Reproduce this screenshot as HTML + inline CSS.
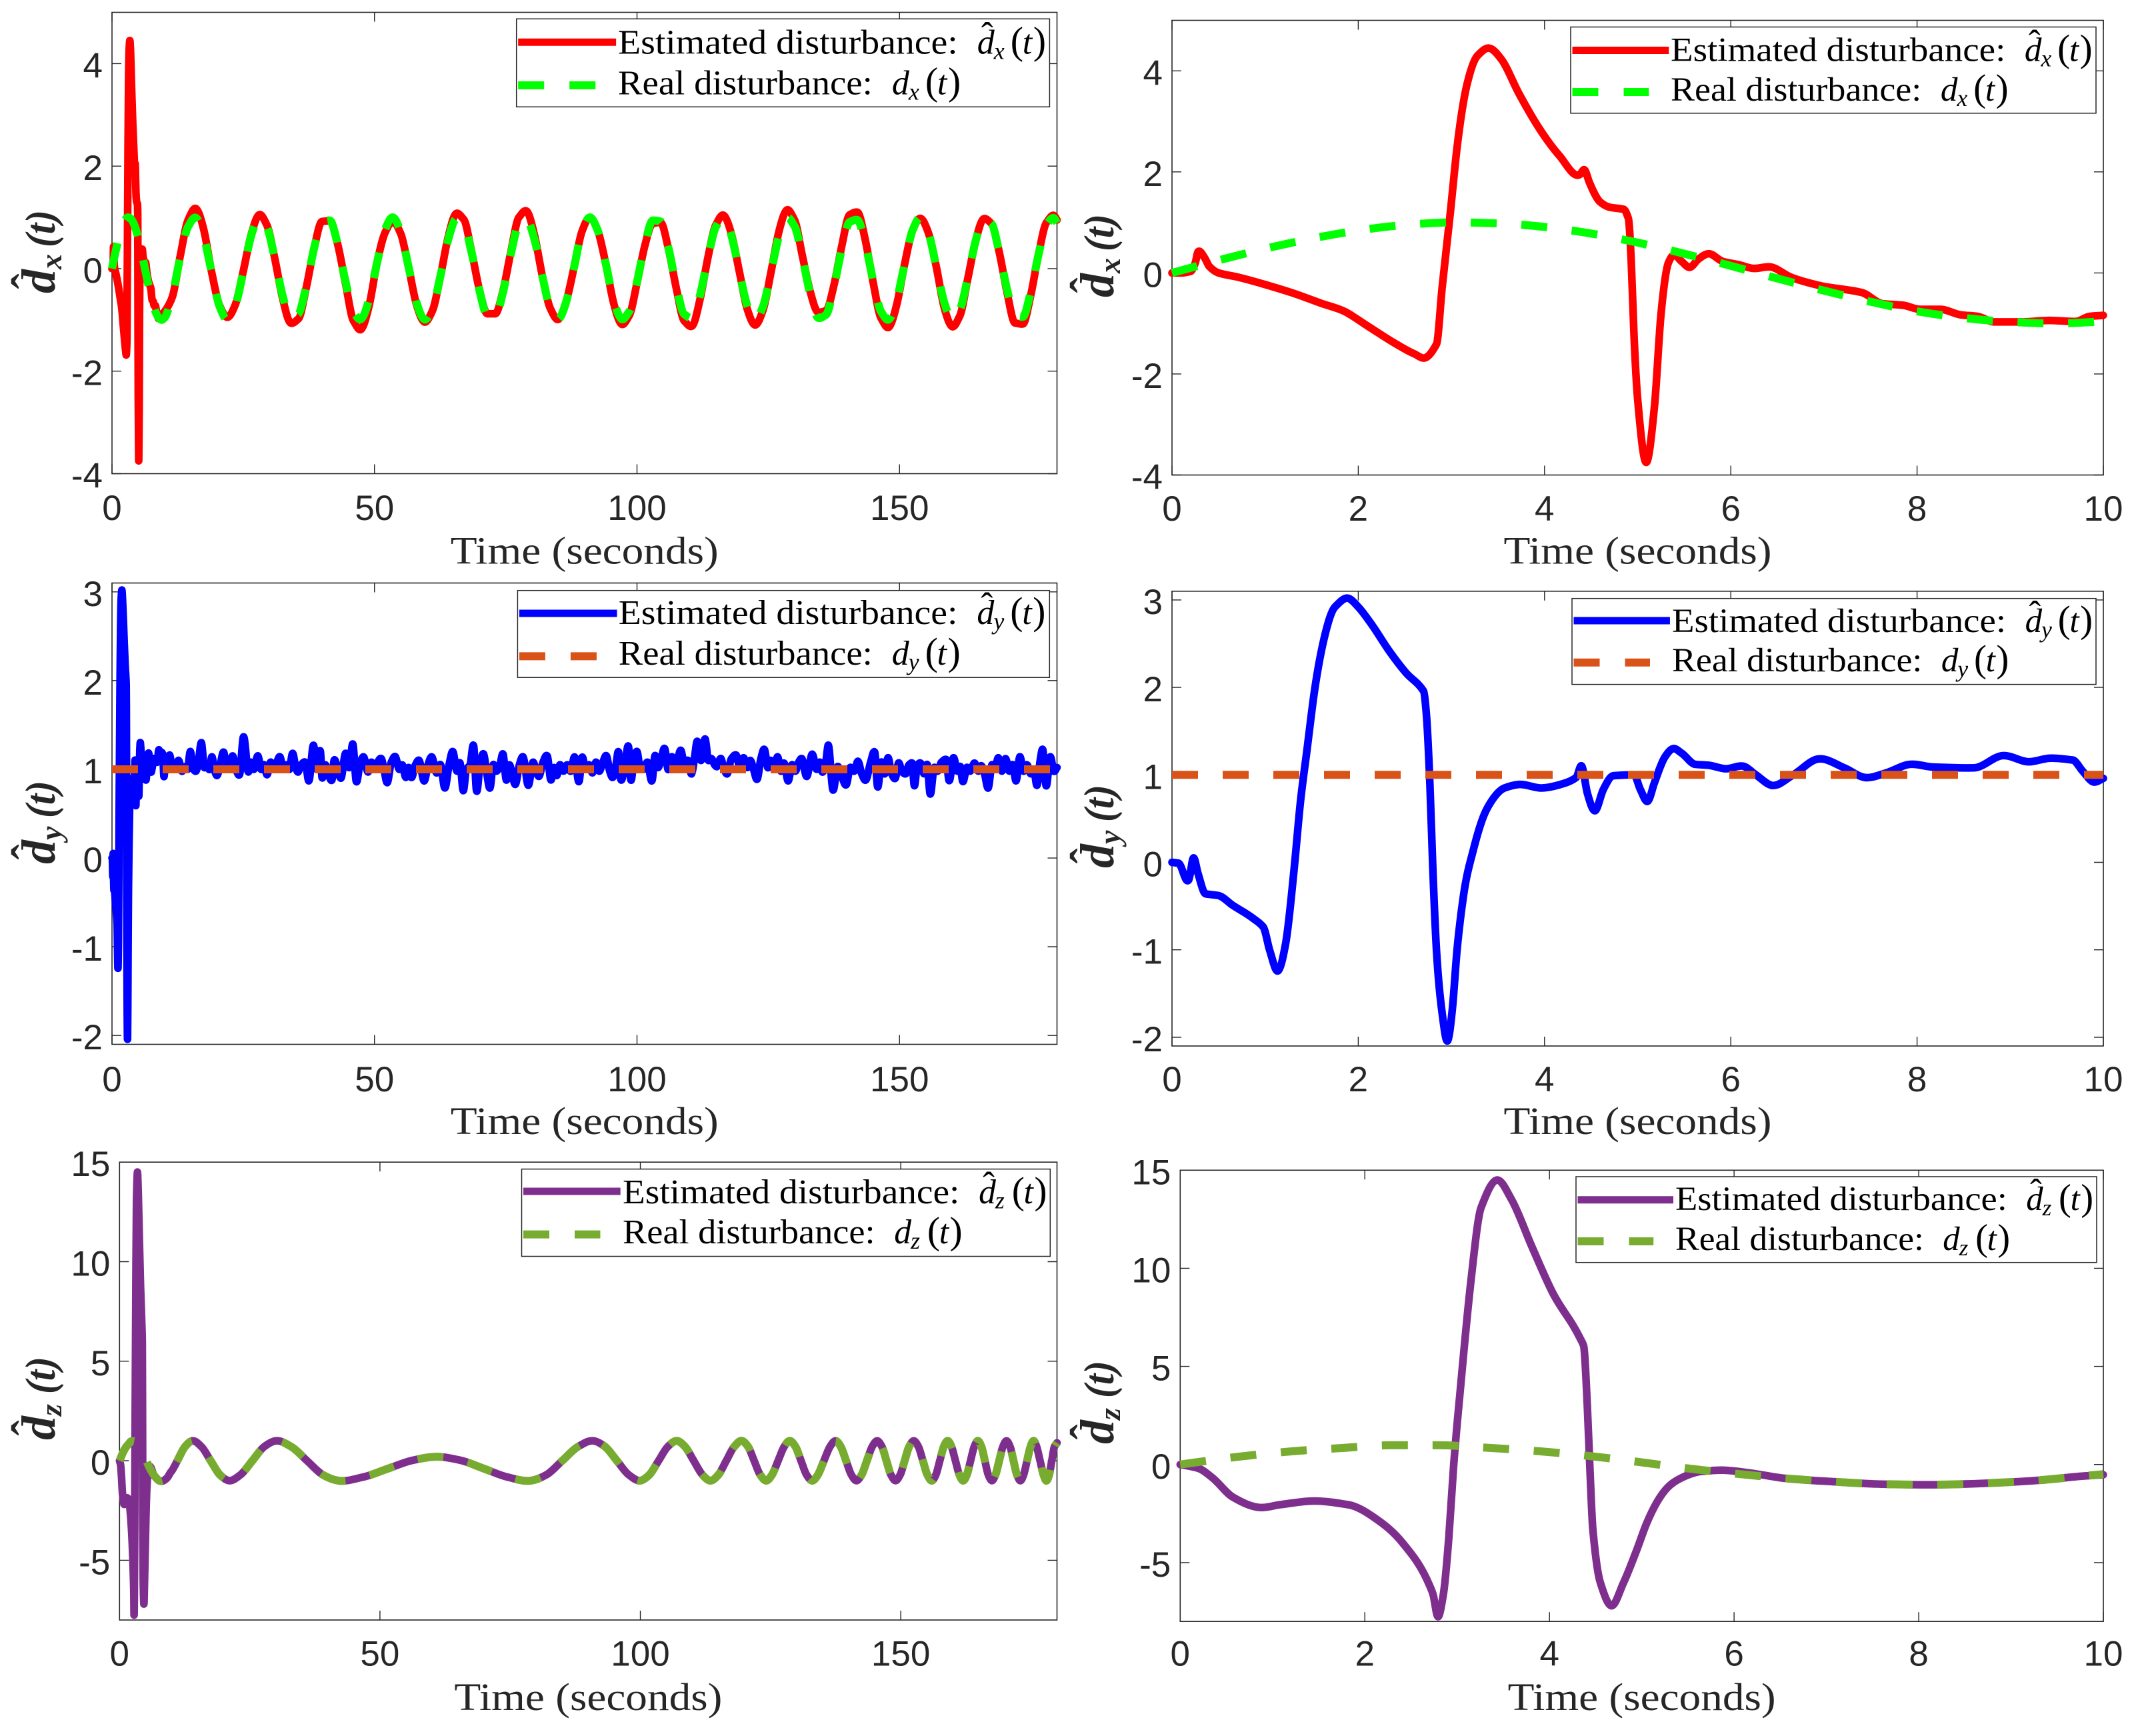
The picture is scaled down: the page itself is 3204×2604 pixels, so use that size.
<!DOCTYPE html>
<html lang="en">
<head>
<meta charset="utf-8">
<title>Estimated and real disturbances</title>
<style>
html,body{margin:0;padding:0;background:#fff;}
svg{display:block;}
</style>
</head>
<body>
<svg id="figure" xmlns="http://www.w3.org/2000/svg" width="3204" height="2604" viewBox="0 0 3204 2604"></svg>
<script>
// ---------- category / tick arrays ----------
var xTicksLong = [0, 50, 100, 150];
var xTicksZoom = [0, 2, 4, 6, 8, 10];
var yTicksX = [-4, -2, 0, 2, 4];
var yTicksY = [-2, -1, 0, 1, 2, 3];
var yTicksZ = [-5, 0, 5, 10, 15];

// ---------- d_x series: first ten seconds ----------
var tEstXHead = [0,0.1,0.2,0.25,0.28,0.35,0.4,0.5,0.7,1,1.3,1.6,1.85,2.1,2.4,2.6,2.72,2.84,2.9,2.99,3.06,3.17,3.28,3.4,3.54,3.72,3.94,4.16,4.38,4.43,4.48,4.6,4.7,4.85,4.9,4.93,4.96,5,5.09,5.18,5.25,5.33,5.38,5.47,5.56,5.65,5.76,5.91,6.09,6.24,6.42,6.64,6.93,7.41,7.63,7.85,8.03,8.25,8.47,8.65,8.83,9.12,9.42,9.71,9.85,10];
var estXHead = [0,0,0.03,0.2,0.42,0.3,0.13,0,-0.08,-0.23,-0.4,-0.6,-0.76,-1.05,-1.4,-1.6,-1.68,-1.41,-0.3,1.22,2.47,3.75,4.3,4.45,4.22,3.57,2.87,2.32,1.95,2.04,1.8,1.4,1.3,1.26,1.08,0.27,-1.2,-2.5,-3.75,-2.65,-0.83,0.2,0.35,0.23,0.11,0.27,0.38,0.23,0.16,0.09,0.12,-0.08,-0.24,-0.39,-0.61,-0.64,-0.72,-0.72,-0.83,-0.86,-0.97,-0.97,-0.94,-0.96,-0.86,-0.84];
var tRealXHead = [0,0.5,1,1.5,2,2.5,3,3.5,4,4.5,5,5.5,6,6.5,7,7.5,8,8.5,9,9.5,10];
var realXHead = [0,0.25,0.48,0.68,0.84,0.95,1,0.98,0.91,0.78,0.6,0.38,0.14,-0.11,-0.35,-0.57,-0.76,-0.89,-0.97,-1,-0.96];

// ---------- d_x series: remainder of the run ----------
var tXLong = [11.5,13,14.5,16,17.5,19,20.5,22,23.5,25,26.5,28,29.5,31,32.5,34,35.5,37,38.5,40,41.5,43,44.5,46,47.5,49,50.5,52,53.5,55,56.5,58,59.5,61,62.5,64,65.5,67,68.5,70,71.5,73,74.5,76,77.5,79,80.5,82,83.5,85,86.5,88,89.5,91,92.5,94,95.5,97,98.5,100,101.5,103,104.5,106,107.5,109,110.5,112,113.5,115,116.5,118,119.5,121,122.5,124,125.5,127,128.5,130,131.5,133,134.5,136,137.5,139,140.5,142,143.5,145,146.5,148,149.5,151,152.5,154,155.5,157,158.5,160,161.5,163,164.5,166,167.5,169,170.5,172,173.5,175,176.5,178,179.5,180];
var realXLong = [-0.51,0.22,0.82,0.99,0.62,-0.08,-0.74,-1,-0.72,-0.07,0.64,0.99,0.81,0.2,-0.53,-0.96,-0.88,-0.34,0.4,0.91,0.94,0.47,-0.26,-0.85,-0.98,-0.59,0.12,0.76,1,0.71,0.03,-0.66,-0.99,-0.79,-0.17,0.55,0.97,0.87,0.31,-0.43,-0.92,-0.93,-0.45,0.3,0.87,0.97,0.56,-0.16,-0.78,-0.99,-0.65,0.02,0.72,1,0.75,0.12,-0.59,-0.98,-0.84,-0.26,0.47,0.94,0.92,0.4,-0.34,-0.89,-0.96,-0.52,0.2,0.81,0.99,0.64,-0.06,-0.72,-1,-0.74,-0.08,0.62,0.99,0.83,0.22,-0.5,-0.96,-0.9,-0.36,0.38,0.91,0.95,0.48,-0.24,-0.84,-0.99,-0.6,0.1,0.75,1,0.71,0.04,-0.65,-0.99,-0.8,-0.18,0.54,0.97,0.88,0.32,-0.41,-0.92,-0.94,-0.45,0.28,0.86,0.98,0.89];
var estXLong = [-0.55,0.25,0.95,1.17,0.75,-0.08,-0.72,-0.95,-0.7,-0.05,0.66,1.05,0.85,0.2,-0.58,-1.06,-0.98,-0.37,0.4,0.92,0.93,0.47,-0.3,-1.02,-1.18,-0.71,0.12,0.7,0.92,0.68,0.02,-0.7,-1.04,-0.83,-0.18,0.6,1.07,0.96,0.33,-0.42,-0.88,-0.88,-0.42,0.34,1,1.12,0.64,-0.16,-0.78,-0.99,-0.65,0.02,0.72,1,0.75,0.12,-0.65,-1.08,-0.92,-0.28,0.45,0.88,0.9,0.38,-0.39,-1.02,-1.12,-0.6,0.21,0.85,1.04,0.67,-0.06,-0.79,-1.1,-0.81,-0.08,0.71,1.14,0.95,0.25,-0.45,-0.85,-0.82,-0.33,0.44,1.05,1.1,0.55,-0.28,-0.97,-1.14,-0.69,0.1,0.75,0.98,0.7,0.04,-0.75,-1.13,-0.92,-0.2,0.54,0.97,0.88,0.32,-0.47,-1.06,-1.08,-0.52,0.29,0.9,1.03,0.95];

// ---------- d_y series: first ten seconds ----------
var tEstYHead = [0,0.07,0.18,0.23,0.28,0.36,0.5,0.65,0.87,0.98,1.05,1.14,1.22,1.31,1.38,1.45,1.53,1.64,1.75,1.89,2,2.15,2.33,2.51,2.7,2.73,2.77,2.8,2.84,2.9,2.96,3.01,3.06,3.13,3.24,3.35,3.43,3.57,3.72,3.97,4.23,4.34,4.4,4.46,4.54,4.63,4.74,4.96,5.03,5.11,5.18,5.29,5.38,5.47,5.62,5.76,5.95,6.13,6.27,6.44,6.67,6.93,7.22,7.44,7.66,7.92,8.17,8.61,8.92,9.2,9.42,9.67,9.78,9.89,10];
var estYHead = [0,-0.01,-0.2,0.05,-0.13,-0.36,-0.38,-0.49,-0.64,-0.74,-1.01,-1.24,-0.93,-0.09,0.7,1.29,1.96,2.59,2.92,3.02,2.92,2.71,2.42,2.17,1.96,1.71,0.87,-0.05,-1.01,-1.72,-2.04,-1.68,-1.01,-0.38,0.16,0.54,0.7,0.85,0.89,0.85,0.91,0.97,1.1,0.79,0.59,0.83,0.99,1,0.83,0.7,0.91,1.2,1.3,1.25,1.12,1.11,1.07,1.1,1,0.88,1,1.18,1.08,0.97,1.02,1.12,1.09,1.08,1.22,1.15,1.19,1.17,1.04,0.92,0.96];

// ---------- d_y series: remainder of the run ----------
var tEstYLong = [
10.6,11,11.5,12,12.7,13.3,13.9,14.4,14.9,15.5,16,16.5,17,17.6,18.1,18.6,19,19.5,20,20.6,
21.3,21.8,22.4,23,23.6,24.3,25,26,26.5,27,27.8,28.4,29,29.5,30.2,30.8,31.4,32,32.6,33.2,
33.8,34.4,35,35.4,36,36.8,37.5,38.4,39,39.7,40,40.6,41.2,41.9,42.3,43,43.6,44.5,45.2,45.9,
46.5,47.2,47.9,48.8,49.4,50,50.6,51.3,51.8,52.4,53.2,54,54.7,55.3,56,56.5,57,57.8,58.5,59.5,
60.2,60.9,61.8,62.6,63.4,64.2,64.9,65.7,66.3,66.9,67.5,68.2,68.9,69.4,70.1,70.8,71.4,72,72.6,73.2,
73.9,74.5,75.1,75.7,76.2,76.8,77.6,78.3,79.3,80.2,80.8,81.3,82.1,82.9,83.6,84.2,84.7,85.3,86,86.7,
87.4,88.1,89,89.5,90.2,90.9,91.5,92.2,92.8,93.5,94.2,94.8,95.4,96,96.5,96.9,97.7,98.4,98.8,99.4,
100,100.6,101.3,102,102.9,103.4,104,104.6,105.3,105.9,106.6,107.4,108.4,109,109.7,110.4,111,111.4,112.2,113,
113.6,114.2,114.8,115.2,116,116.6,117.2,118,118.9,119.6,120.3,121,121.6,122.2,122.9,123.6,124.3,124.9,125.5,126.1,
126.8,127.4,128,128.8,129.5,130.2,130.8,131.4,132.3,133.4,134.2,134.8,135.3,136,136.4,137.3,138.2,139,139.9,140.6,
141.4,142.1,142.8,143.6,144.5,145.3,145.8,146.5,147.2,147.8,148.5,149.2,149.8,150.5,151.2,151.8,152.4,152.8,153.4,154,
154.7,155.3,155.8,156.6,157.3,158,158.9,159.4,160.3,161,161.6,162,162.8,163.5,164.3,165,165.6,166.2,166.9,167.6,
168.2,168.8,169.5,170.2,170.9,171.6,172.2,172.9,173.6,174.3,175,175.6,176.2,176.8,177.3,177.9,178.7,179.4,180
];
var estYLong = [
1.1,1.16,1,1,1.1,0.98,1.03,1,1.2,1,0.98,1.1,1.3,1.02,1.05,1,1.14,1,0.93,1.05,
1.19,1.02,1.05,1.15,1,0.94,1.36,0.97,1.08,1,1.15,1,1.05,0.94,1.08,1,1.08,1.14,1,1.05,
1,1.18,1.02,0.97,1.05,1.08,0.87,1.27,1,1.2,0.91,1.05,0.95,0.88,1.1,1,0.9,1.18,1.02,1.28,
0.87,1.05,1.14,0.97,1.08,1,1.08,1.12,1,0.85,1.08,1.14,1,1.05,0.91,1.02,0.91,1.05,1.1,0.87,
1.05,1.14,0.96,1.05,0.79,1.05,1.2,0.98,1.07,0.76,1,1.05,1.26,0.77,1.05,1.17,0.95,0.79,1.05,0.98,
1.05,1.17,0.88,1.05,0.95,0.83,1.05,1.14,0.82,1.08,0.98,0.92,1.08,1.15,0.88,1.02,0.93,1.05,0.98,1.05,
0.98,1.14,0.87,1.13,1,1.05,0.96,1.08,0.98,1.08,1.15,0.98,0.91,1.05,1.19,0.89,1.05,1.25,0.89,1.1,
1.2,1.02,1,1.08,0.88,1.15,1.02,1.12,1.23,1,1.14,1.05,1.21,1.05,1.1,0.95,1.15,1.31,1.1,1.34,
1.1,1.12,1.05,1.03,1.12,1,0.95,1.12,1.16,1.02,1.13,1.02,1.1,1,0.89,1.12,1.22,1.02,1.1,1,
1.14,0.98,1.07,0.87,1.05,0.98,1.08,1.12,0.92,1.17,1,1.08,0.97,1.1,1.27,0.77,1.03,0.92,0.83,1.02,
0.98,1.09,0.95,0.88,1.08,1.19,0.81,1.08,0.95,1.13,0.95,0.9,1.07,0.97,0.95,1.05,1.07,0.82,1.05,1.07,
0.95,1.05,0.73,1.02,0.98,1.08,1.11,0.88,1.13,0.98,1.03,0.87,1.02,0.98,1.07,0.98,1.04,0.95,0.79,1.05,
1,1.13,0.98,1.12,0.98,1.05,0.87,1.14,0.98,1.05,0.95,1,0.82,1.1,1.22,0.82,1.14,0.98,1.02
];
var tRealY = [0, 10, 180];
var realY = [1, 1, 1];

// ---------- d_z series: first ten seconds ----------
var tEstZHead = [0,0.2,0.35,0.57,0.86,1.08,1.45,1.82,2.11,2.41,2.7,2.74,2.79,2.85,2.91,2.96,3.04,3.15,3.26,3.43,3.59,3.81,4.03,4.33,4.37,4.41,4.44,4.47,4.55,4.67,4.8,4.95,5.05,5.28,5.43,5.65,5.87,6.17,6.54,7.09,7.6,8.16,8.71,9.26,9.78,10];
var estZHead = [0,-0.2,-0.68,-1.66,-2.19,-2.05,-1.86,-2.05,-2.73,-4,-6.15,-6.64,-7.75,-6.64,-3.71,-0.2,4.1,9.38,13.1,14.5,13.5,11.1,8.8,6.45,6.05,3,-0.4,-3.3,-6,-7.2,-6.05,-4.3,-3.03,-1.17,-0.68,-0.35,-0.29,-0.43,-0.7,-0.88,-1,-1.03,-0.96,-0.82,-0.59,-0.52];
var tRealZHead = [0,0.64,1.23,1.75,2.26,2.78,3.37,3.88,4.44,4.95,5.5,6.02,6.54,7.09,7.6,8.16,8.71,9.26,9.78,10];
var realZHead = [0,0.4,0.68,0.84,0.98,0.98,0.84,0.68,0.43,0.14,-0.2,-0.47,-0.7,-0.88,-1,-1.03,-0.96,-0.82,-0.59,-0.49];

// ---------- d_z series: remainder of the run ----------
var tZLong = [11.1,12.55,14,15.75,17.5,19.25,21,23.25,25.5,27.75,30,33,36,39,42,46.75,51.5,56.25,61,65.5,70,74.5,79,82,85,88,91,93.25,95.5,97.75,100,101.75,103.5,105.25,107,108.6,110.25,111.9,113.5,115,116.5,118,119.5,120.7,121.85,123,124.2,125.3,126.45,127.6,128.7,129.8,130.85,131.9,133,134.1,135.25,136.4,137.5,138.5,139.5,140.5,141.5,142.5,143.5,144.5,145.5,146.4,147.25,148.1,149,149.9,150.75,151.6,152.5,153.4,154.25,155.1,156,156.75,157.5,158.25,159,159.75,160.5,161.25,162,162.7,163.4,164.1,164.8,165.5,166.15,166.8,167.5,168.2,168.9,169.6,170.3,171,171.65,172.3,173,173.6,174.25,174.9,175.5,176.1,176.75,177.4,178,178.5,179,179.5,180];
var realZLong = [0,0.7,1,0.7,0,-0.7,-1,-0.7,0,0.7,1,0.7,0,-0.7,-1,-0.82,-0.4,0.02,0.2,0.02,-0.4,-0.82,-1,-0.7,0,0.7,1,0.7,0,-0.7,-1,-0.7,0,0.7,1,0.7,0,-0.7,-1,-0.7,0,0.7,1,0.7,0,-0.7,-1,-0.7,0,0.7,1,0.7,0,-0.7,-1,-0.7,0,0.7,1,0.7,0,-0.7,-1,-0.7,0,0.7,1,0.7,0,-0.7,-1,-0.7,0,0.7,1,0.7,0,-0.7,-1,-0.7,0,0.7,1,0.7,0,-0.7,-1,-0.7,0,0.7,1,0.7,0,-0.7,-1,-0.7,0,0.7,1,0.7,0,-0.7,-1,-0.7,0,0.7,1,0.7,0,-0.7,-1,-0.7,0,0.7,0.9];

// ---------- assembled series ----------
var estX = { t: tEstXHead.concat(tXLong), v: estXHead.concat(estXLong) };
var realX = { t: tRealXHead.concat(tXLong), v: realXHead.concat(realXLong) };
var estY = { t: tEstYHead.concat(tEstYLong), v: estYHead.concat(estYLong) };
var realYSeries = { t: tRealY, v: realY };
var estZ = { t: tEstZHead.concat(tZLong), v: estZHead.concat(realZLong) };
var realZ = { t: tRealZHead.concat(tZLong), v: realZHead.concat(realZLong) };

var NS = 'http://www.w3.org/2000/svg';
var root = document.getElementById('figure');
var INK = '#262626';

function svgEl(tag, attrs, parent) {
  var n = document.createElementNS(NS, tag);
  for (var k in attrs) n.setAttribute(k, attrs[k]);
  parent.appendChild(n);
  return n;
}
function linearScale(d0, d1, r0, r1) {
  return function (v) { return r0 + (v - d0) / (d1 - d0) * (r1 - r0); };
}
function curvePath(pts) {
  if (pts.length < 3) {
    return pts.map(function (p, i) { return (i ? 'L' : 'M') + p[0].toFixed(2) + ' ' + p[1].toFixed(2); }).join('');
  }
  var n = pts.length, m = [], s = [], i;
  for (i = 0; i < n - 1; i++) s[i] = (pts[i + 1][1] - pts[i][1]) / (pts[i + 1][0] - pts[i][0]);
  m[0] = s[0]; m[n - 1] = s[n - 2];
  for (i = 1; i < n - 1; i++) {
    var h0 = pts[i][0] - pts[i - 1][0], h1 = pts[i + 1][0] - pts[i][0];
    var t = (s[i] * h0 + s[i - 1] * h1) / (h0 + h1);
    var lim = s[i] * s[i - 1] > 0 ? 1.5 * Math.min(Math.abs(s[i]), Math.abs(s[i - 1])) : Math.min(Math.abs(s[i]), Math.abs(s[i - 1]));
    m[i] = Math.max(-lim, Math.min(lim, t));
  }
  var d = 'M' + pts[0][0].toFixed(2) + ' ' + pts[0][1].toFixed(2);
  for (i = 0; i < n - 1; i++) {
    var h = (pts[i + 1][0] - pts[i][0]) / 3;
    d += 'C' + (pts[i][0] + h).toFixed(2) + ' ' + (pts[i][1] + m[i] * h).toFixed(2) + ' ' +
      (pts[i + 1][0] - h).toFixed(2) + ' ' + (pts[i + 1][1] - m[i + 1] * h).toFixed(2) + ' ' +
      pts[i + 1][0].toFixed(2) + ' ' + pts[i + 1][1].toFixed(2);
  }
  return d;
}
function seriesPoints(series, xs, ys, xMax) {
  var out = [];
  for (var i = 0; i < series.t.length; i++) {
    if (series.t[i] <= xMax) out.push([xs(series.t[i]), ys(series.v[i])]);
  }
  return out;
}

function mathLabel(parent, sub, x, base, k, hat) {
  var size = 52 * k;
  var group = svgEl('g', { 'font-family': '"Liberation Serif", serif', fill: '#000' }, parent);
  
  
  svgEl('text', { x: x, y: base, 'font-size': size, 'font-style': 'italic' }, group).textContent = 'd';
  svgEl('text', { x: x + 25 * k, y: base + 8 * k, 'font-size': 36 * k, 'font-style': 'italic' }, group).textContent = sub;
  svgEl('text', { x: x + 50 * k, y: base, 'font-size': 58 * k }, group).textContent = '(';
  svgEl('text', { x: x + 68 * k, y: base, 'font-size': size, 'font-style': 'italic' }, group).textContent = 't';
  svgEl('text', { x: x + 84 * k, y: base, 'font-size': 58 * k }, group).textContent = ')';
  if (hat) {
    svgEl('text', { x: x + 15 * k, y: base - 10 * k, 'font-size': 54 * k, 'text-anchor': 'middle' }, group).textContent = '\u02C6';
  }
}

function drawPanel(p) {
  var g = svgEl('g', {}, root);
  
  

  var xs = linearScale(p.xlim[0], p.xlim[1], p.l, p.r);
  var ys = linearScale(p.ylim[0], p.ylim[1], p.b, p.t);

  var frame = svgEl('rect', { x: p.l, y: p.t, width: p.r - p.l, height: p.b - p.t, fill: '#fff', stroke: INK, 'stroke-width': 1.6 }, g);
  
  

  p.xticks.forEach(function (v) {
    var x = xs(v);
    var tick = svgEl('path', { d: 'M' + x + ' ' + p.b + 'V' + (p.b - 14) + 'M' + x + ' ' + p.t + 'V' + (p.t + 14), stroke: INK, 'stroke-width': 1.4, fill: 'none' }, g);
    
    
    var lab = svgEl('text', { x: x, y: p.xTickBase, 'font-family': '"Liberation Sans", sans-serif', 'font-size': 53, fill: INK, 'text-anchor': 'middle' }, g);
    
    
    lab.textContent = String(v);
  });
  p.yticks.forEach(function (v) {
    var y = ys(v);
    var tick = svgEl('path', { d: 'M' + p.l + ' ' + y + 'H' + (p.l + 14) + 'M' + p.r + ' ' + y + 'H' + (p.r - 14), stroke: INK, 'stroke-width': 1.4, fill: 'none' }, g);
    
    
    var lab = svgEl('text', { x: p.l - 14, y: y + 21, 'font-family': '"Liberation Sans", sans-serif', 'font-size': 53, fill: INK, 'text-anchor': 'end' }, g);
    
    
    lab.textContent = String(v);
  });

  var xt = svgEl('text', { x: (p.l + p.r) / 2, y: p.xTitleBase + 2, 'font-family': '"Liberation Serif", serif', 'font-size': 58, fill: INK, 'text-anchor': 'middle', textLength: 402, lengthAdjust: 'spacingAndGlyphs' }, g);
  
  
  xt.textContent = 'Time (seconds)';

  var yt = svgEl('g', { transform: 'translate(' + p.ylabX + ',' + (p.ylabY + 2) + ') rotate(-90)', 'font-family': '"Liberation Serif", serif', fill: INK, 'font-weight': 'bold' }, g);
  
  
  svgEl('text', { x: 0, y: 0, 'font-size': 72, 'font-style': 'italic' }, yt).textContent = 'd';
  svgEl('text', { x: 36, y: 10, 'font-size': 46, 'font-style': 'italic' }, yt).textContent = p.sub;
  svgEl('text', { x: 18, y: -16, 'font-size': 70, 'text-anchor': 'middle' }, yt).textContent = '\u02C6';
  svgEl('text', { x: 69, y: 0, 'font-size': 64, 'font-style': 'italic', textLength: 56, lengthAdjust: 'spacingAndGlyphs' }, yt).textContent = '(t)';

  var estPath = svgEl('path', { d: curvePath(seriesPoints(p.est, xs, ys, p.xlim[1])), fill: 'none', stroke: p.estColor, 'stroke-width': 11.5, 'stroke-linecap': 'round', 'stroke-linejoin': 'round' }, g);
  
  

  var realPath = svgEl('path', { d: curvePath(seriesPoints(p.real, xs, ys, p.xlim[1])), fill: 'none', stroke: p.realColor, 'stroke-width': 12, 'stroke-dasharray': '39 37', 'stroke-linecap': 'butt', 'stroke-linejoin': 'round' }, g);
  
  

  var L = p.legend, k = (L.r - L.l) / 800;
  var lg = svgEl('g', {}, g);
  
  
  var box = svgEl('rect', { x: L.l, y: L.t, width: L.r - L.l, height: L.b - L.t, fill: '#fff', stroke: INK, 'stroke-width': 1.5 }, lg);
  
  
  var s1 = svgEl('line', { x1: L.l + 2.5, x2: L.l + 2.5 + 147 * k, y1: L.y1, y2: L.y1, stroke: p.estColor, 'stroke-width': 11 }, lg);
  
  
  var s2 = svgEl('line', { x1: L.l + 2.5, x2: L.l + 2.5 + 116.5 * k, y1: L.y2, y2: L.y2, stroke: p.realColor, 'stroke-width': 12, 'stroke-dasharray': '39 38' }, lg);
  
  

  var t1 = svgEl('text', { x: L.tx - 1, y: L.b1 + 1, 'font-family': '"Liberation Serif", serif', 'font-size': 52 * k, fill: '#000', textLength: 510 * k, lengthAdjust: 'spacingAndGlyphs' }, lg);
  
  
  t1.textContent = 'Estimated disturbance:';
  mathLabel(lg, p.sub, L.tx + 538 * k, L.b1 + 1, k, true);

  var t2 = svgEl('text', { x: L.tx - 1, y: L.b2 + 1, 'font-family': '"Liberation Serif", serif', 'font-size': 52 * k, fill: '#000', textLength: 382 * k, lengthAdjust: 'spacingAndGlyphs' }, lg);
  
  
  t2.textContent = 'Real disturbance:';
  mathLabel(lg, p.sub, L.tx + 410 * k, L.b2 + 1, k, false);
}

drawPanel({ name: 'panel-dx-full', sub: 'x', est: estX, real: realX, estColor: '#ff0000', realColor: '#00ff00',
  l: 168, r: 1585.5, t: 18.5, b: 710.5, xlim: [0, 180], ylim: [-4, 5], xticks: xTicksLong, yticks: yTicksX,
  xTickBase: 780, xTitleBase: 843.5, ylabX: 82, ylabY: 438,
  legend: { l: 774.7, t: 28.3, r: 1574.4, b: 160.3, y1: 63.3, y2: 128, tx: 928, b1: 79.3, b2: 140.7 } });
drawPanel({ name: 'panel-dx-zoom', sub: 'x', est: estX, real: realX, estColor: '#ff0000', realColor: '#00ff00',
  l: 1758, r: 3155, t: 30.5, b: 712.5, xlim: [0, 10], ylim: [-4, 5], xticks: xTicksZoom, yticks: yTicksX,
  xTickBase: 781, xTitleBase: 843.5, ylabX: 1670, ylabY: 444,
  legend: { l: 2356, t: 40.5, r: 3144, b: 169.8, y1: 75.5, y2: 138, tx: 2507, b1: 90.5, b2: 150 } });
drawPanel({ name: 'panel-dy-full', sub: 'y', est: estY, real: realYSeries, estColor: '#0000ff', realColor: '#d95319',
  l: 168, r: 1585.5, t: 874.5, b: 1566.5, xlim: [0, 180], ylim: [-2.1, 3.1], xticks: xTicksLong, yticks: yTicksY,
  xTickBase: 1637, xTitleBase: 1699, ylabX: 82, ylabY: 1294,
  legend: { l: 776.4, t: 885.7, r: 1574.3, b: 1016.2, y1: 920, y2: 984.4, tx: 928.8, b1: 935, b2: 996 } });
drawPanel({ name: 'panel-dy-zoom', sub: 'y', est: estY, real: realYSeries, estColor: '#0000ff', realColor: '#d95319',
  l: 1758, r: 3155, t: 886.8, b: 1569, xlim: [0, 10], ylim: [-2.1, 3.1], xticks: xTicksZoom, yticks: yTicksY,
  xTickBase: 1637, xTitleBase: 1699, ylabX: 1670, ylabY: 1300,
  legend: { l: 2358, t: 897.7, r: 3144, b: 1026.6, y1: 931, y2: 993.7, tx: 2509, b1: 947, b2: 1006 } });
drawPanel({ name: 'panel-dz-full', sub: 'z', est: estZ, real: realZ, estColor: '#7e2f8e', realColor: '#77ac30',
  l: 179.3, r: 1585.5, t: 1743.2, b: 2430, xlim: [0, 180], ylim: [-8, 15], xticks: xTicksLong, yticks: yTicksZ,
  xTickBase: 2498.5, xTitleBase: 2563, ylabX: 82, ylabY: 2158,
  legend: { l: 782.5, t: 1753.6, r: 1575.3, b: 1884.5, y1: 1787, y2: 1851.6, tx: 935, b1: 1803.8, b2: 1864 } });
drawPanel({ name: 'panel-dz-zoom', sub: 'z', est: estZ, real: realZ, estColor: '#7e2f8e', realColor: '#77ac30',
  l: 1770.3, r: 3155, t: 1755.3, b: 2432.2, xlim: [0, 10], ylim: [-8, 15], xticks: xTicksZoom, yticks: yTicksZ,
  xTickBase: 2498.5, xTitleBase: 2563, ylabX: 1670, ylabY: 2164,
  legend: { l: 2364, t: 1765, r: 3145, b: 1893.7, y1: 1799.7, y2: 1862, tx: 2514, b1: 1814, b2: 1874 } });
</script>
</body>
</html>
